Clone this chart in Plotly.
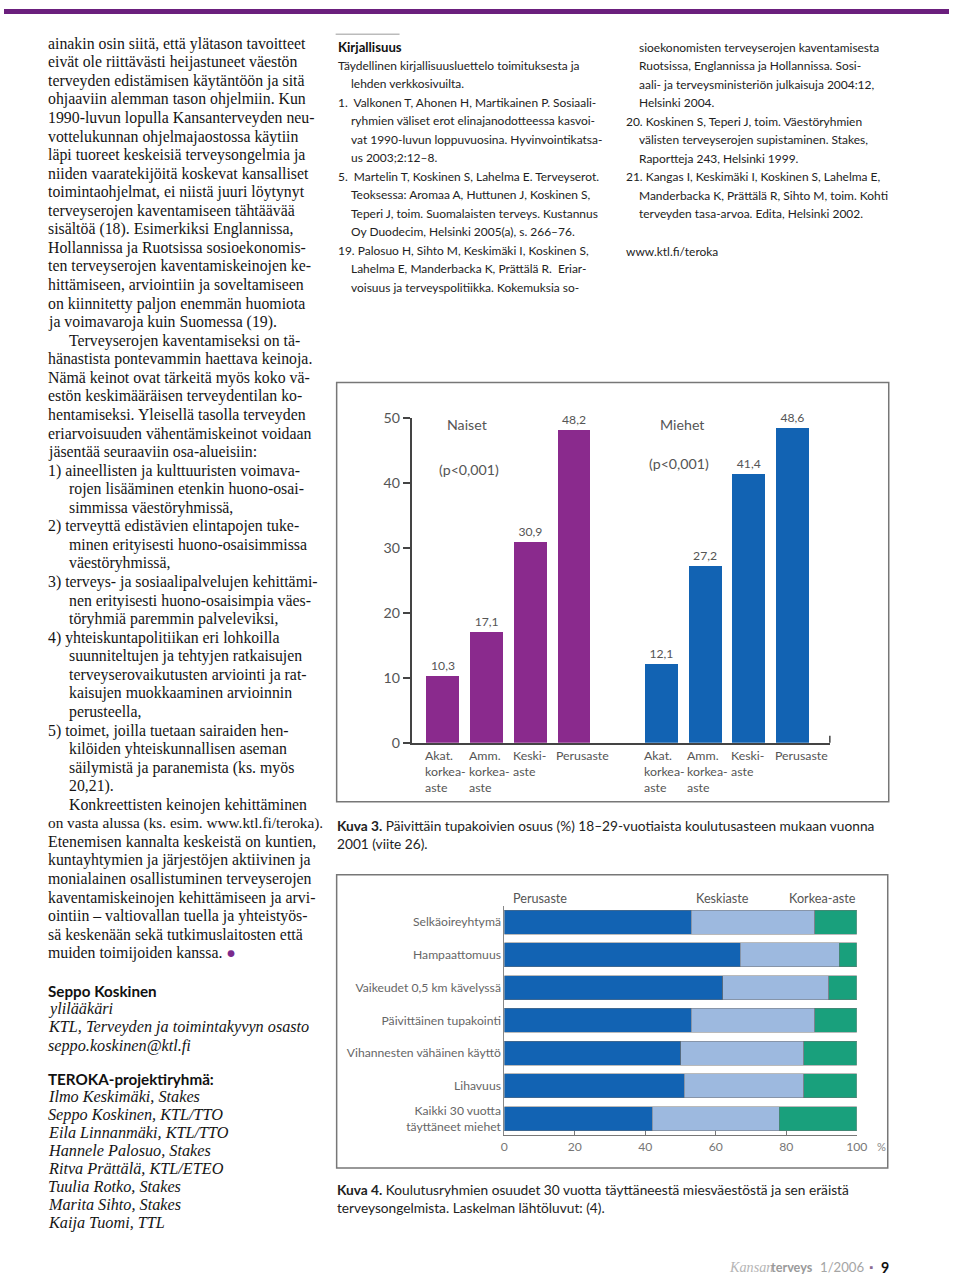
import plotly.graph_objects as go

W, H = 960, 1277

# ---------------- data ----------------
edu_levels = ["Akat.<br>korkea-<br>aste", "Amm.<br>korkea-<br>aste", "Keski-<br>aste", "Perusaste"]
women = [10.3, 17.1, 30.9, 48.2]
men = [12.1, 27.2, 41.4, 48.6]
y1_ticks = [0, 10, 20, 30, 40, 50]

conditions = ["Selkäoireyhtymä", "Hampaattomuus", "Vaikeudet 0,5 km kävelyssä",
              "Päivittäinen tupakointi", "Vihannesten vähäinen käyttö", "Lihavuus",
              "Kaikki 30 vuotta<br>täyttäneet miehet"]
series_names = ["Perusaste", "Keskiaste", "Korkea-aste"]
perus = [53, 67, 62, 53, 50, 51, 42]
keski = [35, 28, 30, 35, 35, 34, 36]
korkea = [12, 5, 8, 12, 15, 15, 22]
x2_ticks = [0, 20, 40, 60, 80, 100]

left_col = [
    "ainakin osin siitä, että ylätason tavoitteet",
    "eivät ole riittävästi heijastuneet väestön",
    "terveyden edistämisen käytäntöön ja sitä",
    "ohjaaviin alemman tason ohjelmiin. Kun",
    "1990-luvun lopulla Kansanterveyden neu-",
    "vottelukunnan ohjelmajaostossa käytiin",
    "läpi tuoreet keskeisiä terveysongelmia ja",
    "niiden vaaratekijöitä koskevat kansalliset",
    "toimintaohjelmat, ei niistä juuri löytynyt",
    "terveyserojen kaventamiseen tähtäävää",
    "sisältöä (18). Esimerkiksi Englannissa,",
    "Hollannissa ja Ruotsissa sosioekonomis-",
    "ten terveyserojen kaventamiskeinojen ke-",
    "hittämiseen, arviointiin ja soveltamiseen",
    "on kiinnitetty paljon enemmän huomiota",
    "ja voimavaroja kuin Suomessa (19).",
    "\tTerveyserojen kaventamiseksi on tä-",
    "hänastista pontevammin haettava keinoja.",
    "Nämä keinot ovat tärkeitä myös koko vä-",
    "estön keskimääräisen terveydentilan ko-",
    "hentamiseksi. Yleisellä tasolla terveyden",
    "eriarvoisuuden vähentämiskeinot voidaan",
    "jäsentää seuraaviin osa-alueisiin:",
    "1) aineellisten ja kulttuuristen voimava-",
    "\trojen lisääminen etenkin huono-osai-",
    "\tsimmissa väestöryhmissä,",
    "2) terveyttä edistävien elintapojen tuke-",
    "\tminen erityisesti huono-osaisimmissa",
    "\tväestöryhmissä,",
    "3) terveys- ja sosiaalipalvelujen kehittämi-",
    "\tnen erityisesti huono-osaisimpia väes-",
    "\ttöryhmiä paremmin palveleviksi,",
    "4) yhteiskuntapolitiikan eri lohkoilla",
    "\tsuunniteltujen ja tehtyjen ratkaisujen",
    "\tterveyserovaikutusten arviointi ja rat-",
    "\tkaisujen muokkaaminen arvioinnin",
    "\tperusteella,",
    "5) toimet, joilla tuetaan sairaiden hen-",
    "\tkilöiden yhteiskunnallisen aseman",
    "\tsäilymistä ja paranemista (ks. myös",
    "\t20,21).",
    "\tKonkreettisten keinojen kehittäminen",
    "on vasta alussa (ks. esim. www.ktl.fi/teroka).",
    "Etenemisen kannalta keskeistä on kuntien,",
    "kuntayhtymien ja järjestöjen aktiivinen ja",
    "monialainen osallistuminen terveyserojen",
    "kaventamiskeinojen kehittämiseen ja arvi-",
    "ointiin – valtiovallan tuella ja yhteistyös-",
    "sä keskenään sekä tutkimuslaitosten että",
    "muiden toimijoiden kanssa. <span style='color:#7b2a8c'>●</span>",
]

author_lines = ["ylilääkäri", "KTL, Terveyden ja toimintakyvyn osasto", "seppo.koskinen@ktl.fi"]
team_lines = ["Ilmo Keskimäki, Stakes", "Seppo Koskinen, KTL/TTO", "Eila Linnanmäki, KTL/TTO",
              "Hannele Palosuo, Stakes", "Ritva Prättälä, KTL/ETEO", "Tuulia Rotko, Stakes",
              "Marita Sihto, Stakes", "Kaija Tuomi, TTL"]

mid_col = [
    "Täydellinen kirjallisuusluettelo toimituksesta ja",
    "\tlehden verkkosivuilta.",
    "1.  Valkonen T, Ahonen H, Martikainen P. Sosiaali-",
    "\tryhmien väliset erot elinajanodotteessa kasvoi-",
    "\tvat 1990-luvun loppuvuosina. Hyvinvointikatsa-",
    "\tus 2003;2:12–8.",
    "5.  Martelin T, Koskinen S, Lahelma E. Terveyserot.",
    "\tTeoksessa: Aromaa A, Huttunen J, Koskinen S,",
    "\tTeperi J, toim. Suomalaisten terveys. Kustannus",
    "\tOy Duodecim, Helsinki 2005(a), s. 266–76.",
    "19. Palosuo H, Sihto M, Keskimäki I, Koskinen S,",
    "\tLahelma E, Manderbacka K, Prättälä R.  Eriar-",
    "\tvoisuus ja terveyspolitiikka. Kokemuksia so-",
]
right_col = [
    "\tsioekonomisten terveyserojen kaventamisesta",
    "\tRuotsissa, Englannissa ja Hollannissa. Sosi-",
    "\taali- ja terveysministeriön julkaisuja 2004:12,",
    "\tHelsinki 2004.",
    "20. Koskinen S, Teperi J, toim. Väestöryhmien",
    "\tvälisten terveyserojen supistaminen. Stakes,",
    "\tRaportteja 243, Helsinki 1999.",
    "21. Kangas I, Keskimäki I, Koskinen S, Lahelma E,",
    "\tManderbacka K, Prättälä R, Sihto M, toim. Kohti",
    "\tterveyden tasa-arvoa. Edita, Helsinki 2002.",
]

# ---------------- helpers (reference-pixel -> paper, compensating photo framing) ----------------
SC, OX, OY = 0.986, 3.8, 8.8

def px(x):
    return ((x - OX) / SC) / W

def py(y):
    return 1 - ((y - OY) / SC) / H

def fs(s):
    return s / SC

SANS = "Lato"
SERIF = "Liberation Serif"
PURPLE = "#8a2a8d"
BLUE = "#1263b3"
LIGHT = "#9db9df"
GREEN = "#19a07c"
GREY = "#555555"

annotations = []
def txt(x, y, s, size=12, family=SANS, color="#222", xanchor="left", yanchor="middle", **kw):
    annotations.append(dict(x=px(x), y=py(y), xref="paper", yref="paper", text=s,
                            showarrow=False, xanchor=xanchor, yanchor=yanchor,
                            font=dict(size=fs(size), family=family, color=color), **kw))

fig = go.Figure()

# ---------------- chart 1 ----------------
bar_w = 0.755
women_pos = [i for i in range(len(women))]
men_pos = [i + len(women) + 1 for i in range(len(men))]
fmt = lambda v: f"{v:.1f}".replace(".", ",")

fig.add_trace(go.Bar(x=women_pos, y=women, width=bar_w, marker_color=PURPLE,
                     marker_line_width=0, text=[fmt(v) for v in women],
                     textposition="outside", cliponaxis=False,
                     textfont=dict(size=fs(12), family=SANS, color=GREY),
                     xaxis="x", yaxis="y", showlegend=False))
fig.add_trace(go.Bar(x=men_pos, y=men, width=bar_w, marker_color=BLUE,
                     marker_line_width=0, text=[fmt(v) for v in men],
                     textposition="outside", cliponaxis=False,
                     textfont=dict(size=fs(12), family=SANS, color=GREY),
                     xaxis="x", yaxis="y", showlegend=False))

for pos_list in (women_pos, men_pos):
    for p, lab in zip(pos_list, edu_levels):
        annotations.append(dict(x=p - bar_w / 2 - 0.07, y=py(745), xref="x", yref="paper",
                                text=lab, showarrow=False, xanchor="left", yanchor="top",
                                align="left", font=dict(size=fs(12.2), family=SANS, color=GREY)))

txt(446, 424, "Naiset", 14, color=GREY)
txt(438, 469, "(p&lt;0,001)", 14, color=GREY)
txt(659, 424, "Miehet", 14, color=GREY)
txt(648, 463, "(p&lt;0,001)", 14, color=GREY)

# ---------------- chart 2 ----------------
for name, vals, col in zip(series_names, [perus, keski, korkea], [BLUE, LIGHT, GREEN]):
    fig.add_trace(go.Bar(y=conditions, x=vals, orientation="h", name=name,
                         marker=dict(color=col, line=dict(color="rgba(110,110,110,0.6)", width=0.8)),
                         xaxis="x2", yaxis="y2", showlegend=False))

txt(512, 897, series_names[0], 12.5, color=GREY)
txt(723, 897, series_names[1], 12.5, color=GREY, xanchor="center")
txt(859, 897, series_names[2], 12.5, color=GREY, xanchor="right")
txt(876, 1146, "%", 11, color="#888")

fig.update_layout(
    width=W, height=H, autosize=False,
    margin=dict(l=0, r=0, t=0, b=0),
    paper_bgcolor="white", plot_bgcolor="white",
    barmode="stack", bargap=0.27,
    xaxis=dict(domain=[px(412), px(831)], range=[-0.72, 8.857], showline=True,
               linecolor="#444", linewidth=1.5, showticklabels=False, ticks="",
               showgrid=False, zeroline=False, fixedrange=True),
    yaxis=dict(domain=[py(742), py(418)], range=[0, 50], showline=True, linecolor="#444",
               linewidth=1.5, ticks="outside", ticklen=7, tickwidth=1.5, tickcolor="#444",
               tickvals=y1_ticks, ticktext=[str(t) for t in y1_ticks],
               tickfont=dict(size=fs(14), family=SANS, color=GREY),
               showgrid=False, zeroline=False, anchor="x"),
    xaxis2=dict(domain=[px(505), px(858)], range=[0, 100], showline=True, linecolor="#777",
                linewidth=1, ticks="inside", ticklen=4, tickcolor="#777",
                tickvals=x2_ticks, tickfont=dict(size=fs(12), family=SANS, color="#777"),
                showgrid=False, zeroline=False, anchor="y2"),
    yaxis2=dict(domain=[py(1134), py(905)], autorange="reversed", showline=True,
                linecolor="#888", linewidth=1, ticks="",
                tickfont=dict(size=fs(12), family=SANS, color="#666"),
                showgrid=False, zeroline=False, anchor="x2"),
)

# ---------------- page text ----------------
for i, line in enumerate(left_col):
    x = 46
    if line.startswith("\t"):
        x = 67
        line = line[1:]
    n = len(line.split(" <span")[0])
    size = min(15.6, 15.6 * 44.5 / n) if n > 44 else 15.6
    txt(x, 43.5 + 18.55 * i, line, size, SERIF, "#151515")

txt(46, 990, "<b>Seppo Koskinen</b>", 15, SANS, "#111")
for i, line in enumerate(author_lines):
    txt(46, 1008 + 18.3 * i, f"<i>{line}</i>", 16, SERIF, "#151515")
txt(46, 1078, "<b>TEROKA-projektiryhmä:</b>", 15, SANS, "#111")
for i, line in enumerate(team_lines):
    txt(46, 1096 + 18.0 * i, f"<i>{line}</i>", 16, SERIF, "#151515")

txt(336, 46.5, "<b>Kirjallisuus</b>", 13, SANS, "#111")
for i, line in enumerate(mid_col):
    x = 336
    if line.startswith("\t"):
        x = 349
        line = line[1:]
    txt(x, 65 + 18.5 * i, line, 11.8, SANS, "#222")

for i, line in enumerate(right_col):
    x = 625
    if line.startswith("\t"):
        x = 638
        line = line[1:]
    txt(x, 47 + 18.5 * i, line, 11.8, SANS, "#222")
txt(625, 251, "www.ktl.fi/teroka", 11.8, SANS, "#222")

txt(335, 825, "<b>Kuva 3.</b> Päivittäin tupakoivien osuus (%) 18–29-vuotiaista koulutusasteen mukaan vuonna", 13.5, SANS, "#222")
txt(335, 843, "2001 (viite 26).", 13.5, SANS, "#222")
txt(335, 1188, "<b>Kuva 4.</b> Koulutusryhmien osuudet 30 vuotta täyttäneestä miesväestöstä ja sen eräistä", 13.5, SANS, "#222")
txt(335, 1206, "terveysongelmista. Laskelman lähtöluvut: (4).", 13.5, SANS, "#222")

txt(728, 1266, "<i>Kansan</i>", 14, SERIF, "#b5b5b5")
txt(770, 1266, "<b>terveys</b>", 12.5, SANS, "#9a9a9a")
txt(819, 1266, "1/2006", 13, SANS, "#a5a5a5")
txt(872, 1266, "▪", 10, SANS, "#8c6c93", xanchor="center")
txt(886, 1266, "<b>9</b>", 14, SANS, "#111", xanchor="center")

shapes = [
    dict(type="rect", xref="paper", yref="paper", x0=0, x1=1, y0=1 - 5 / H, y1=1,
         fillcolor="#6b1f7d", line_width=0),
    dict(type="line", xref="paper", yref="paper", x0=px(336), x1=px(400), y0=py(34), y1=py(34),
         line=dict(color="#bbbbbb", width=1.5)),
    dict(type="rect", xref="paper", yref="paper", x0=px(337), x1=px(890), y0=py(801), y1=py(382),
         line=dict(color="#777", width=1.5)),
    dict(type="rect", xref="paper", yref="paper", x0=px(337), x1=px(889), y0=py(1167), y1=py(874),
         line=dict(color="#777", width=1.5)),
    dict(type="line", xref="paper", yref="paper", x0=px(831), x1=px(831), y0=py(742), y1=py(735),
         line=dict(color="#444", width=1.5)),
]
fig.update_layout(annotations=annotations, shapes=shapes)

post = ("document.documentElement.style.margin='0';document.documentElement.style.padding='0';"
        "document.documentElement.style.overflow='hidden';"
        "document.body.style.margin='0';document.body.style.padding='0';document.body.style.overflow='hidden';"
        "var d=document.getElementsByClassName('plotly-graph-div')[0];"
        "d.style.position='absolute';d.style.left='0px';d.style.top='0px';")

fig.write_html("out.html", config={"displayModeBar": False}, post_script=post)
